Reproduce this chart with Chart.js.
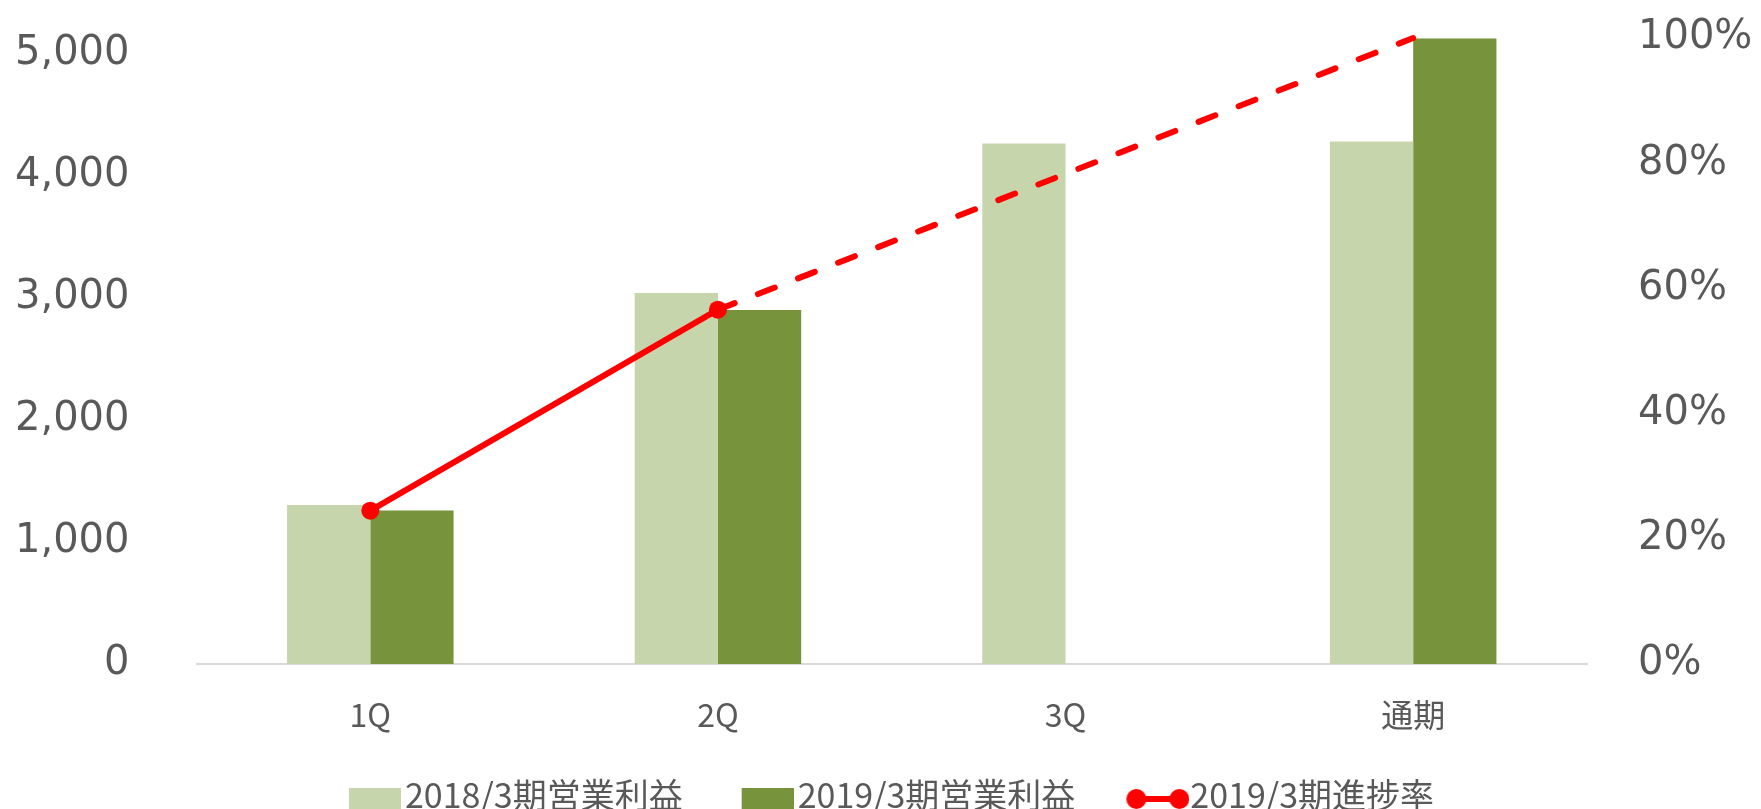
<!DOCTYPE html>
<html>
<head>
<meta charset="utf-8">
<script src="https://cdn.jsdelivr.net/npm/chart.js@4"></script>
<style>
  html, body { margin: 0; padding: 0; background: #fff; }
  #wrap { width: 1761px; height: 809px; position: relative; }
</style>
</head>
<body>
<div id="wrap"><canvas id="chart"></canvas></div>
<script>
const categories = ['1Q', '2Q', '3Q', '通期'];
const profit2018 = [1303, 3041, 4265, 4282];
const profit2019 = [1257, 2902, null, 5126];
const progress2019 = [24.5, 56.6, 78.3, 100];   // %
const seriesLabels = ['2018/3期営業利益', '2019/3期営業利益', '2019/3期進捗率'];
const leftTicks = [0, 1000, 2000, 3000, 4000, 5000];
const rightTicks = [0, 20, 40, 60, 80, 100];

const LIGHT = '#C6D5AC';
const DARK = '#77933C';
const RED = '#FF0000';
const GREY_TXT = '#595959';

// legend icons (swatch / line with two dots)
function swatch(color) {
  const c = document.createElement('canvas');
  c.width = 80; c.height = 50;
  const g = c.getContext('2d');
  g.fillStyle = color;
  g.fillRect(28, 18, 52, 32);
  return c;
}
function lineIcon() {
  const c = document.createElement('canvas');
  c.width = 86; c.height = 40;
  const g = c.getContext('2d');
  g.strokeStyle = RED; g.fillStyle = RED; g.lineWidth = 6;
  g.beginPath(); g.moveTo(33, 24); g.lineTo(76, 24); g.stroke();
  g.beginPath(); g.arc(33, 24, 10, 0, Math.PI * 2); g.fill();
  g.beginPath(); g.arc(76, 24, 10, 0, Math.PI * 2); g.fill();
  return c;
}
const legendIcons = [swatch(LIGHT), swatch(DARK), lineIcon()];

// fixed axis sizes, no extra auto padding
function fixWidth(w) {
  return s => { s.width = w; s.paddingTop = 0; s.paddingBottom = 0; };
}

const ctx = document.getElementById('chart').getContext('2d');

new Chart(ctx, {
  type: 'bar',
  data: {
    labels: categories,
    datasets: [
      {
        label: seriesLabels[0],
        data: profit2018,
        backgroundColor: LIGHT,
        yAxisID: 'y',
        order: 2,
        categoryPercentage: 0.479,
        barPercentage: 1.0
      },
      {
        label: seriesLabels[1],
        data: profit2019,
        backgroundColor: DARK,
        yAxisID: 'y',
        order: 2,
        categoryPercentage: 0.479,
        barPercentage: 1.0
      },
      {
        type: 'line',
        label: seriesLabels[2],
        data: progress2019,
        yAxisID: 'y1',
        order: 0,
        borderColor: RED,
        backgroundColor: RED,
        borderWidth: 6,
        borderCapStyle: 'round',
        pointRadius: [9, 9, 0, 0],
        pointHoverRadius: 0,
        pointBackgroundColor: RED,
        pointBorderColor: RED,
        pointBorderWidth: 0,
        fill: false,
        tension: 0,
        clip: false,
        segment: {
          borderDash: c => c.p0DataIndex >= 1 ? [18, 25] : undefined
        }
      }
    ]
  },
  options: {
    responsive: true,
    maintainAspectRatio: false,
    animation: false,
    layout: { autoPadding: false, padding: { left: 15, right: 8, top: 38, bottom: -13 } },
    scales: {
      x: {
        grid: { display: false, drawTicks: false },
        border: { display: true, color: '#D9D9D9', width: 2 },
        afterFit: s => { s.height = 70; s.paddingLeft = 0; s.paddingRight = 0; },
        ticks: {
          padding: 32,
          color: GREY_TXT,
          font: { family: '"Noto Sans CJK JP"', size: 32 }
        }
      },
      y: {
        position: 'left',
        min: 0,
        max: 5130,
        grid: { display: false, drawTicks: false },
        border: { display: false },
        afterBuildTicks: scale => { scale.ticks = leftTicks.map(v => ({ value: v })); },
        afterFit: fixWidth(181.5),
        ticks: {
          padding: 67,
          color: GREY_TXT,
          font: { family: '"DejaVu Sans"', size: 40 },
          callback: v => v.toLocaleString('en-US')
        }
      },
      y1: {
        position: 'right',
        min: 0,
        max: 100,
        grid: { display: false, drawTicks: false },
        border: { display: false },
        afterBuildTicks: scale => { scale.ticks = rightTicks.map(v => ({ value: v })); },
        afterFit: fixWidth(166),
        ticks: {
          padding: 51,
          color: GREY_TXT,
          font: { family: '"DejaVu Sans"', size: 40 },
          callback: v => v + '%'
        }
      }
    },
    plugins: {
      tooltip: { enabled: false },
      legend: {
        position: 'bottom',
        labels: {
          usePointStyle: true,
          pointStyleWidth: 54,
          padding: 44,
          color: GREY_TXT,
          font: { family: '"Noto Sans CJK JP"', size: 34 },
          generateLabels: chart => chart.data.datasets.map((ds, i) => ({
            text: ds.label,
            pointStyle: legendIcons[i],
            fillStyle: 'transparent',
            strokeStyle: 'transparent',
            lineWidth: 0,
            fontColor: GREY_TXT,
            hidden: false,
            datasetIndex: i
          }))
        }
      }
    }
  }
});
</script>
</body>
</html>
